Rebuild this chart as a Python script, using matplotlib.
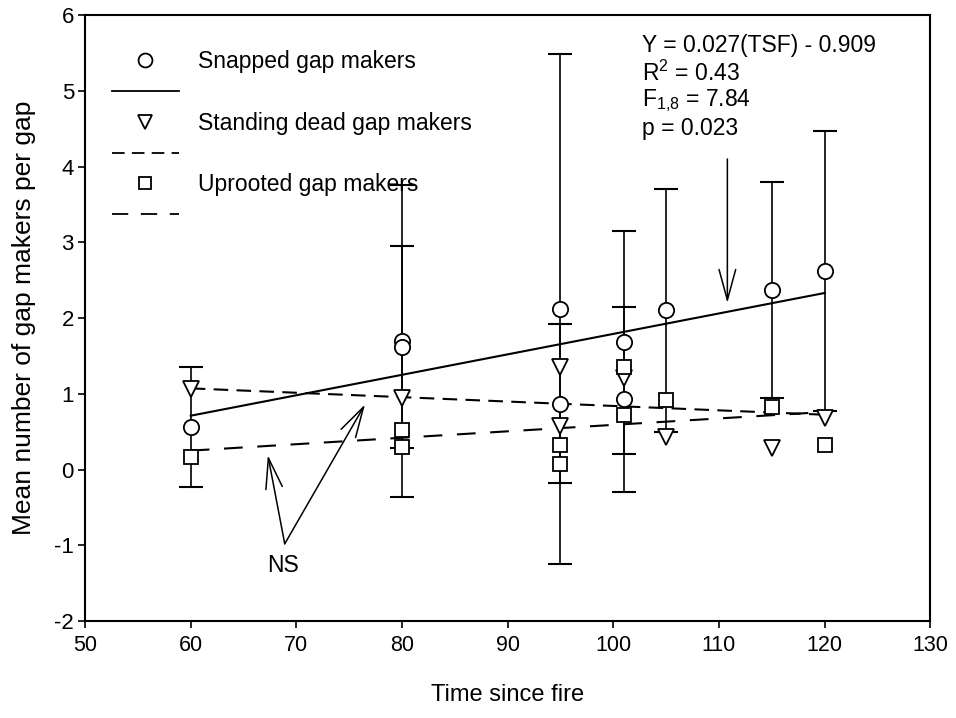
"""Gap makers per gap against time since fire, with regression lines."""

import matplotlib
matplotlib.use('Agg')
import matplotlib.pyplot as plt
from matplotlib.lines import Line2D
import numpy as np

plt.rcParams['font.family'] = ['Liberation Sans', 'DejaVu Sans']
plt.rcParams['mathtext.fontset'] = 'custom'
plt.rcParams['mathtext.rm'] = 'Liberation Sans'
plt.rcParams['axes.unicode_minus'] = False

# snapped gap makers: mean and error per site
snap_tsf = [60, 80, 80, 95, 95, 101, 101, 105, 115, 120]
snap_mean = [0.56, 1.70, 1.62, 2.12, 0.87, 1.68, 0.93, 2.10, 2.37, 2.62]
snap_err = [0.79, 2.06, 1.33, 3.36, 1.05, 1.47, 1.22, 1.61, 1.43, 1.85]

# standing dead gap makers
dead_tsf = [60, 80, 95, 95, 101, 105, 115, 120]
dead_mean = [1.07, 0.95, 1.35, 0.58, 1.21, 0.43, 0.28, 0.68]

# uprooted gap makers
uproot_tsf = [60, 80, 80, 95, 95, 101, 101, 105, 115, 120]
uproot_mean = [0.17, 0.52, 0.30, 0.33, 0.08, 1.35, 0.72, 0.92, 0.82, 0.33]

# regression fits (slope, intercept) over the sampled range
fit_range = [60, 120]
snap_fit = (0.027, -0.909)
dead_fit = (-0.0058, 1.42)
uproot_fit = (0.0085, -0.26)

x_ticks = list(range(50, 131, 10))
y_ticks = list(range(-2, 7))

fig = plt.figure(figsize=(9.56, 7.18), dpi=100)
ax = fig.add_axes([0.089, 0.135, 0.884, 0.844])

ax.errorbar(snap_tsf, snap_mean, yerr=snap_err, fmt='none', ecolor='k',
            elinewidth=1.2, capsize=8.5, capthick=1.5, zorder=2)

fx = np.array(fit_range, dtype=float)
ax.plot(fx, snap_fit[0] * fx + snap_fit[1], color='k', lw=1.5, ls='-', zorder=3)
ax.plot(fx, dead_fit[0] * fx + dead_fit[1], color='k', lw=1.5,
        ls=(0, (7, 4)), zorder=3)
ax.plot(fx, uproot_fit[0] * fx + uproot_fit[1], color='k', lw=1.5,
        ls=(0, (9, 7)), zorder=3)

mk = dict(ls='none', mfc='white', mec='k', mew=1.3, zorder=4)
ax.plot(snap_tsf, snap_mean, marker='o', ms=11, **mk)
ax.plot(dead_tsf, dead_mean, marker='v', ms=11, **mk)
ax.plot(uproot_tsf, uproot_mean, marker='s', ms=9.5, **mk)

ax.set_xlim(50, 130)
ax.set_ylim(-2, 6)
ax.set_xticks(x_ticks)
ax.set_yticks(y_ticks)
ax.tick_params(direction='out', length=5, width=1.2, labelsize=16,
               top=False, right=False)
ax.tick_params(axis='y', pad=3)
ax.tick_params(axis='x', labelsize=15.5, pad=5)
for sp in ax.spines.values():
    sp.set_linewidth(1.5)

ax.set_xlabel('Time since fire', fontsize=17, labelpad=20)
ax.set_ylabel('Mean number of gap makers per gap', fontsize=19, labelpad=13)

handles = [
    Line2D([], [], marker='o', ms=10, **mk),
    Line2D([], [], color='k', lw=1.3),
    Line2D([], [], marker='v', ms=10, **mk),
    Line2D([], [], color='k', lw=1.3, ls=(0, (7, 4))),
    Line2D([], [], marker='s', ms=9, **mk),
    Line2D([], [], color='k', lw=1.3, ls=(0, (9, 7))),
]
labels = ['Snapped gap makers', ' ', 'Standing dead gap makers', ' ',
          'Uprooted gap makers', ' ']
ax.legend(handles, labels, loc='upper left', bbox_to_anchor=(0.032, 0.942),
          frameon=False, fontsize=16.5, handlelength=2.9, handletextpad=0.85,
          labelspacing=0.34, borderpad=0, borderaxespad=0)

stats = ['Y = 0.027(TSF) - 0.909', 'R$^2$ = 0.43',
         r'F$_{1{,}8}$ = 7.84', 'p = 0.023']
for i, s in enumerate(stats):
    ax.text(102.7, 5.6 - i * 0.366, s, fontsize=16.5, va='center', ha='left')

ax.annotate('', xy=(110.8, 2.2), xytext=(110.8, 4.1),
            arrowprops=dict(arrowstyle='->,head_length=2.2,head_width=0.6',
                            color='k', lw=1.1, shrinkA=0, shrinkB=0))

ax.text(68.7, -1.27, 'NS', fontsize=16.5, ha='center', va='center')
for tip in [(67.3, 0.19), (76.5, 0.86)]:
    ax.annotate('', xy=tip, xytext=(68.9, -0.98),
                arrowprops=dict(arrowstyle='->,head_length=2.2,head_width=0.6',
                                color='k', lw=1.1, shrinkA=0, shrinkB=0))

fig.savefig('out.png', dpi=100)
